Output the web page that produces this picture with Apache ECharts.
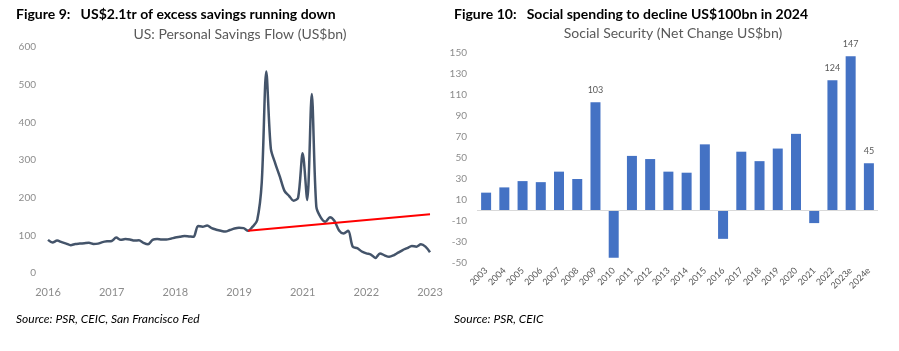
<!DOCTYPE html>
<html>
<head>
<meta charset="utf-8">
<script src="https://cdn.jsdelivr.net/npm/echarts@6/dist/echarts.min.js"></script>
<style>
  html, body { margin: 0; padding: 0; background: #fff; }
  #chart { width: 899px; height: 351px; }
</style>
</head>
<body>
<div id="chart"></div>
<script>
// Figure 9: monthly personal savings flow, Jan 2016 onward (US$bn)
const savings = [
  88, 81, 86, 82, 78, 74, 77, 78, 79, 80, 77, 78,
  82, 84, 85, 94, 88, 90, 89, 86, 87, 80, 76, 88,
  90, 89, 89, 91, 94, 96, 98, 97, 96, 125, 123, 126,
  119, 115, 112, 110, 114, 118, 120, 119, 112, 123, 140, 240,
  535, 330, 290, 255, 218, 205, 192, 200, 318, 194, 475, 176,
  147, 136, 148, 138, 113, 105, 112, 70, 66, 57, 52, 49,
  40, 52, 47, 43, 47, 54, 61, 66, 72, 70, 76, 70,
  55
]
const savingsTickLabels = ['2016', '2017', '2018', '2019', '2021', '2022', '2023']
const labelEvery = 14
// red trend line: start / end index and value
const trendIdx = [44, 84]
const trendVal = [112, 156]

// Figure 10: social security net change (US$bn)
const years = ['2003', '2004', '2005', '2006', '2007', '2008', '2009', '2010', '2011', '2012', '2013',
  '2014', '2015', '2016', '2017', '2018', '2019', '2020', '2021', '2022', '2023e', '2024e']
const netChange = [17, 22, 28, 27, 37, 30, 103, -45, 52, 49, 37, 36, 63, -27, 56, 47, 59, 73, -12, 124, 147, 45]
const labelled = ['2009', '2022', '2023e', '2024e']

const FONT = 'Lato, "Open Sans", sans-serif'
const months = savings.map((_, i) => String(i))

const chart = echarts.init(document.getElementById('chart'))

chart.setOption({
  animation: false,
  backgroundColor: '#fff',
  textStyle: { fontFamily: FONT },
  title: [
    { text: 'Figure 9:   US$2.1tr of excess savings running down', left: 11, top: 2,
      textStyle: { fontSize: 14, fontWeight: 'bold', color: '#000', fontFamily: FONT } },
    { text: 'US: Personal Savings Flow (US$bn)', left: 235, top: 22, textAlign: 'center',
      textStyle: { fontSize: 14, fontWeight: 'normal', color: '#595959', fontFamily: FONT } },
    { text: 'Source: PSR, CEIC, San Francisco Fed', left: 11, top: 308,
      textStyle: { fontSize: 12, fontStyle: 'italic', fontWeight: 'normal', color: '#000', fontFamily: FONT } },
    { text: 'Figure 10:   Social spending to decline US$100bn in 2024', left: 449, top: 2,
      textStyle: { fontSize: 14, fontWeight: 'bold', color: '#000', fontFamily: FONT } },
    { text: 'Social Security (Net Change US$bn)', left: 668, top: 21, textAlign: 'center',
      textStyle: { fontSize: 14, fontWeight: 'normal', color: '#595959', fontFamily: FONT } },
    { text: 'Source: PSR, CEIC', left: 449, top: 308,
      textStyle: { fontSize: 12, fontStyle: 'italic', fontWeight: 'normal', color: '#000', fontFamily: FONT } },
  ],
  grid: [
    { left: 48, top: 47, width: 382, height: 226 },
    { left: 477, top: 53, width: 401, height: 210 },
  ],
  xAxis: [
    {
      gridIndex: 0,
      type: 'category',
      boundaryGap: false,
      data: months,
      axisLine: { show: false },
      axisTick: { show: false },
      axisLabel: {
        interval: (i) => i % labelEvery === 0,
        formatter: (v, i) => savingsTickLabels[i / labelEvery] || '',
        color: '#8c8c8c', fontSize: 11, margin: 14, fontFamily: FONT,
      },
    },
    {
      gridIndex: 1,
      type: 'category',
      data: years,
      axisLine: { show: false, onZero: false },
      axisTick: { show: false },
      axisLabel: { rotate: 45, interval: 0, color: '#595959', fontSize: 9, margin: 6, fontFamily: FONT },
    },
  ],
  yAxis: [
    {
      gridIndex: 0,
      type: 'value',
      min: 0, max: 600, interval: 100,
      splitLine: { show: false },
      axisLabel: { color: '#8c8c8c', fontSize: 10, margin: 12, fontFamily: FONT },
    },
    {
      gridIndex: 1,
      type: 'value',
      min: -50, max: 150, interval: 20,
      splitLine: { show: false },
      axisLabel: { color: '#8c8c8c', fontSize: 10, margin: 10, fontFamily: FONT },
    },
  ],
  series: [
    {
      type: 'line',
      xAxisIndex: 0, yAxisIndex: 0,
      data: savings,
      smooth: 0.3,
      symbol: 'none',
      lineStyle: { color: '#44546A', width: 2.5 },
    },
    {
      type: 'line',
      xAxisIndex: 0, yAxisIndex: 0,
      data: trendIdx.map((x, i) => [x, trendVal[i]]),
      symbol: 'none',
      lineStyle: { color: '#FF0000', width: 2 },
    },
    {
      type: 'bar',
      xAxisIndex: 1, yAxisIndex: 1,
      data: netChange,
      barWidth: 10,
      itemStyle: { color: '#4472C4' },
      label: {
        show: true,
        position: 'top',
        distance: 8,
        color: '#595959',
        fontSize: 9,
        fontFamily: FONT,
        formatter: (p) => labelled.includes(p.name) ? String(p.value) : '',
      },
      markLine: {
        silent: true,
        symbol: 'none',
        label: { show: false },
        lineStyle: { color: '#d9d9d9', width: 1, type: 'solid' },
        data: [{ yAxis: 0 }],
      },
    },
  ],
})
</script>
</body>
</html>
